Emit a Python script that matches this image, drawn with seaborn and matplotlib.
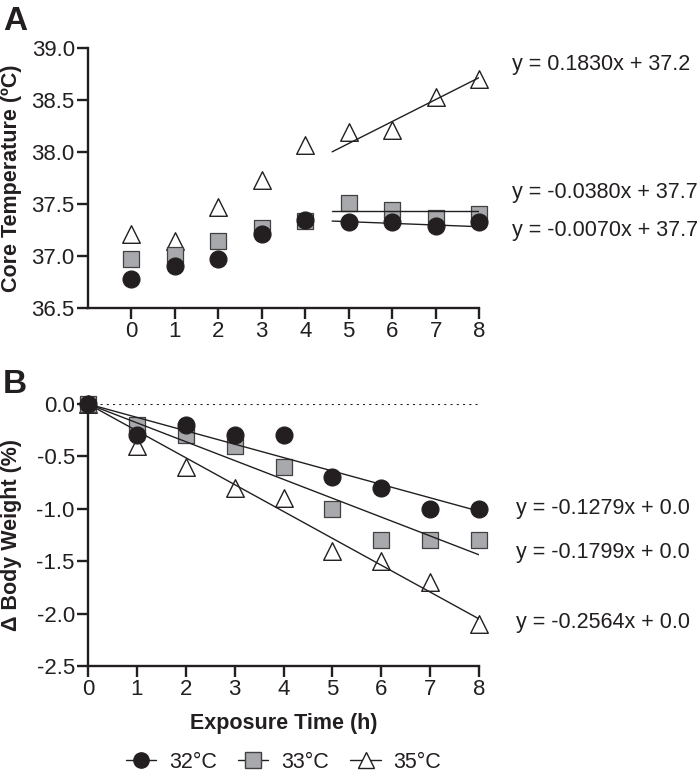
import numpy as np
import pandas as pd
import seaborn as sns
import matplotlib
matplotlib.use("Agg")
import matplotlib.pyplot as plt
from matplotlib.lines import Line2D

# Data
hours = [0, 1, 2, 3, 4, 5, 6, 7, 8]
groups = ["32°C", "33°C", "35°C"]

# Panel A: core temperature (ºC)
temp_32 = [36.78, 36.90, 36.97, 37.21, 37.35, 37.33, 37.33, 37.29, 37.33]
temp_33 = [36.97, 37.01, 37.14, 37.27, 37.34, 37.51, 37.44, 37.37, 37.40]
temp_35 = [37.21, 37.14, 37.47, 37.73, 38.07, 38.19, 38.21, 38.53, 38.70]

# Panel B: change in body weight (%)
bw_32 = [0.0, -0.3, -0.2, -0.3, -0.3, -0.7, -0.8, -1.0, -1.0]
bw_33 = [0.0, -0.2, -0.3, -0.4, -0.6, -1.0, -1.3, -1.3, -1.3]
bw_35 = [0.0, -0.4, -0.6, -0.8, -0.9, -1.4, -1.5, -1.7, -2.1]

# Regression lines (slope, intercept) as drawn
fit_a_slope = [-0.016, 0.0, 0.211]
fit_a_icpt = [37.41, 37.436, 37.027]
fit_b_slope = [-0.1279, -0.1799, -0.2564]
fit_b_icpt = [0.0, 0.0, 0.0]

eq_a = ["y = -0.0070x + 37.7", "y = -0.0380x + 37.7", "y = 0.1830x + 37.2"]
eq_b = ["y = -0.1279x + 0.0", "y = -0.1799x + 0.0", "y = -0.2564x + 0.0"]

df_a = pd.DataFrame({"time": hours * 3,
                     "value": temp_32 + temp_33 + temp_35,
                     "group": np.repeat(groups, len(hours))})
df_b = pd.DataFrame({"time": hours * 3,
                     "value": bw_32 + bw_33 + bw_35,
                     "group": np.repeat(groups, len(hours))})

sns.set_theme(style="ticks")
plt.rcParams["font.family"] = ["Liberation Sans", "DejaVu Sans"]
plt.rcParams["axes.unicode_minus"] = False

ink = "#231f20"
styles = {
    "32°C": dict(marker="o", s=150, color=ink, edgecolor=ink, linewidth=0.8, zorder=5),
    "33°C": dict(marker="s", s=140, color="#a7a9ac", edgecolor="#414042", linewidth=0.9, zorder=4),
    "35°C": dict(marker="^", s=160, color="white", edgecolor=ink, linewidth=1.0, zorder=3),
}

fig = plt.figure(figsize=(7, 7.77), dpi=100)
ax_a = fig.add_axes([0.1257, 0.6036, 0.5586, 0.3346])
ax_b = fig.add_axes([0.1257, 0.1429, 0.5586, 0.3372])

fs = 15.5

# Panel A
for g in groups:
    sub = df_a[df_a["group"] == g]
    sns.scatterplot(data=sub, x="time", y="value", ax=ax_a, legend=False,
                    clip_on=False, **styles[g])
xs_a = np.array([4.62, 8.37])
for m, b in zip(fit_a_slope, fit_a_icpt):
    sns.lineplot(x=xs_a, y=m * xs_a + b, ax=ax_a, color=ink, lw=1.0, zorder=6)
ax_a.set_xlim(-1, 8)
ax_a.set_ylim(36.5, 39.0)
ax_a.set_xticks(hours)
ax_a.set_yticks([36.5, 37.0, 37.5, 38.0, 38.5, 39.0])
ax_a.set_yticklabels([f"{v:.1f}" for v in [36.5, 37.0, 37.5, 38.0, 38.5, 39.0]])
ax_a.set_xlabel("")
ax_a.set_ylabel("Core Temperature (ºC)", fontsize=fs, fontweight="bold", color=ink)
for txt, ty in zip(eq_a, [37.25, 37.61, 38.84]):
    ax_a.text(8.75, ty, txt, fontsize=fs, color=ink, va="center", ha="left")

# Panel B
ax_b.axhline(0, color=ink, lw=1.5, ls=(0, (1, 2)), zorder=1)
for g in groups:
    sub = df_b[df_b["group"] == g]
    sns.scatterplot(data=sub, x="time", y="value", ax=ax_b, legend=False,
                    clip_on=False, **styles[g])
xs_b = np.array([0.0, 8.0])
for m, b in zip(fit_b_slope, fit_b_icpt):
    sns.lineplot(x=xs_b, y=m * xs_b + b, ax=ax_b, color=ink, lw=1.0, zorder=6)
ax_b.set_xlim(0, 8)
ax_b.set_ylim(-2.5, 0.0)
ax_b.set_xticks(hours)
ax_b.set_yticks([-2.5, -2.0, -1.5, -1.0, -0.5, 0.0])
ax_b.set_yticklabels([f"{v:.1f}" for v in [-2.5, -2.0, -1.5, -1.0, -0.5, 0.0]])
ax_b.set_xlabel("Exposure Time (h)", fontsize=fs, fontweight="bold", color=ink)
ax_b.set_ylabel("Δ Body Weight (%)", fontsize=fs, fontweight="bold", color=ink)
ax_b.xaxis.set_label_coords(0.5, -0.18)
for txt, ty in zip(eq_b, [-0.994, -1.415, -2.084]):
    ax_b.text(8.75, ty, txt, fontsize=fs, color=ink, va="center", ha="left")

for ax in (ax_a, ax_b):
    sns.despine(ax=ax)
    for sp in ("left", "bottom"):
        ax.spines[sp].set_linewidth(1.7)
        ax.spines[sp].set_color(ink)
    ax.tick_params(axis="both", length=8, width=1.7, color=ink, labelsize=16,
                   labelcolor=ink, pad=1.5)
    ax.yaxis.set_label_coords(-0.17, 0.5)
    ax.set_facecolor("white")

fig.text(0.004, 0.9614, "A", fontsize=24, fontweight="bold", color=ink)
fig.text(0.004, 0.494, "B", fontsize=24, fontweight="bold", color=ink)

handles = [Line2D([0], [0], color=ink, lw=1.0, marker=styles[g]["marker"],
                  markersize=11, markerfacecolor=styles[g]["color"],
                  markeredgecolor=styles[g]["edgecolor"], markeredgewidth=1.0)
           for g in groups]
fig.legend(handles, groups, loc="center", bbox_to_anchor=(0.405, 0.019), ncol=3,
           frameon=False, fontsize=fs, handlelength=1.4, handletextpad=0.6,
           columnspacing=1.0, labelcolor=ink)

fig.savefig("out.png", dpi=100, facecolor="white")
